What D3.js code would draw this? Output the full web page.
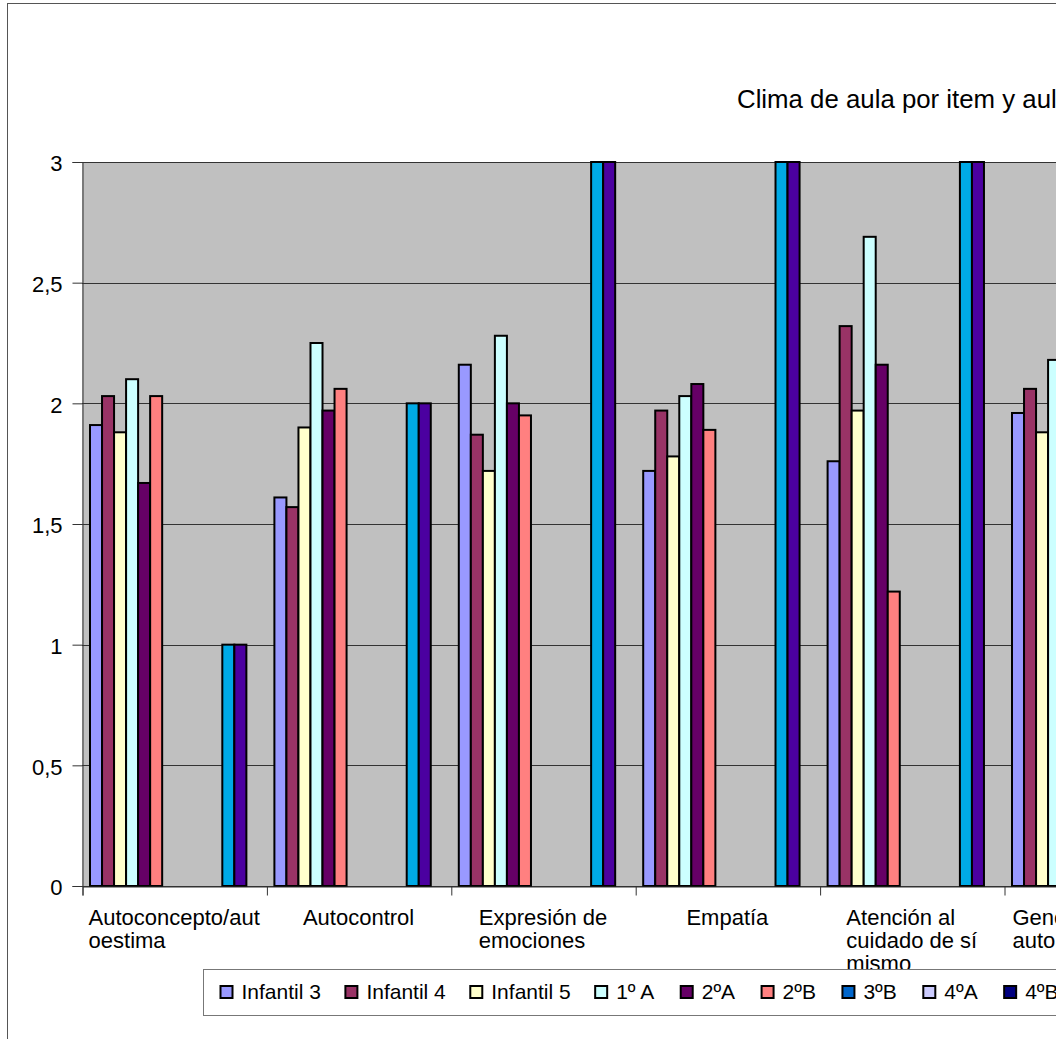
<!DOCTYPE html>
<html><head><meta charset="utf-8">
<script src="https://cdn.jsdelivr.net/npm/d3@7"></script>
<style>
body{margin:0;background:#fff;overflow:hidden}
svg{display:block}
text{font-family:"Liberation Sans",Arial,sans-serif;fill:#000}
</style>
</head><body>
<svg id="chart" width="1056" height="1039"></svg>
<script>
// ---- data ----
const title = "Clima de aula por item y aula";
const categories = ["Autoconcepto/autoestima","Autocontrol","Expresión de emociones","Empatía","Atención al cuidado de sí mismo","Generación de la autoimagen"];
const categoryLines = [["Autoconcepto/aut","oestima"],["Autocontrol"],["Expresión de","emociones"],["Empatía"],["Atención al","cuidado de sí","mismo"],["Generación de la","autoimagen"]];
const seriesNames = ["Infantil 3","Infantil 4","Infantil 5","1º A","2ºA","2ºB","3ºB","4ºA","4ºB","5ºA","5ºB","6ºA","6ºB","6ºC"];
const seriesColors = ["#9999ff","#993366","#ffffcc","#ccffff","#660066","#ff8080","#0066cc","#ccccff","#000080","#ff00ff","#ffff00","#00aae6","#4b00a0","#800000"];
const infantil3 = [1.91, 1.61, 2.16, 1.72, 1.76, 1.96];
const infantil4 = [2.03, 1.57, 1.87, 1.97, 2.32, 2.06];
const infantil5 = [1.88, 1.90, 1.72, 1.78, 1.97, 1.88];
const primeroA  = [2.10, 2.25, 2.28, 2.03, 2.69, 2.18];
const segundoA  = [1.67, 1.97, 2.00, 2.08, 2.16, null];
const segundoB  = [2.03, 2.06, 1.95, 1.89, 1.22, null];
const terceroB  = [null, null, null, null, null, null];
const cuartoA   = [null, null, null, null, null, null];
const cuartoB   = [null, null, null, null, null, null];
const quintoA   = [null, null, null, null, null, null];
const quintoB   = [null, null, null, null, null, null];
const sextoA    = [1, 2, 3, 3, 3, null];
const sextoB    = [1, 2, 3, 3, 3, null];
const sextoC    = [null, null, null, null, null, null];
const yTicks = [0, 0.5, 1, 1.5, 2, 2.5, 3];

const seriesValues = [infantil3, infantil4, infantil5, primeroA, segundoA, segundoB, terceroB, cuartoA, cuartoB, quintoA, quintoB, sextoA, sextoB, sextoC];

// ---- layout ----
const svg = d3.select("#chart");
const plotL = 82, plotT = 162, plotB = 886, catW = 184.4;
const plotR = plotL + catW * categories.length;
const FS = 22;

// outer frame
svg.append("rect").attr("x", 7.5).attr("y", 3.5).attr("width", 1200).attr("height", 1200)
  .attr("fill", "#fff").attr("stroke", "#555").attr("stroke-width", 1);

const x0 = d3.scaleBand().domain(categories).range([plotL, plotR]).padding(0);
const x1 = d3.scaleBand().domain(seriesNames).range([8, catW - 8]).padding(0);
const y = d3.scaleLinear().domain([0, 3]).range([plotB, plotT]);
const color = d3.scaleOrdinal().domain(seriesNames).range(seriesColors);

// plot background
svg.append("rect").attr("x", plotL).attr("y", plotT).attr("width", plotR - plotL).attr("height", plotB - plotT)
  .attr("fill", "#c0c0c0");

// gridlines
svg.append("g").selectAll("line").data(yTicks).join("line")
  .attr("x1", plotL).attr("x2", plotR)
  .attr("y1", d => Math.round(y(d)) + 0.5).attr("y2", d => Math.round(y(d)) + 0.5)
  .attr("stroke", "#333").attr("stroke-width", 1);

// bars
const barData = [];
seriesValues.forEach((arr, si) => arr.forEach((v, ci) => {
  if (v != null) barData.push({ s: seriesNames[si], c: categories[ci], v });
}));
svg.append("g").selectAll("rect").data(barData).join("rect")
  .attr("x", d => x0(d.c) + x1(d.s))
  .attr("y", d => y(d.v))
  .attr("width", x1.bandwidth())
  .attr("height", d => y(0) - y(d.v))
  .attr("fill", d => color(d.s))
  .attr("stroke", "#000").attr("stroke-width", 2);

// y axis
const yAxis = d3.axisLeft(y).tickValues(yTicks).tickSize(10).tickPadding(10)
  .tickFormat(d => String(d).replace(".", ","));
const gy = svg.append("g").attr("transform", `translate(${plotL + 0.5},0)`).call(yAxis);
gy.selectAll("path,line").attr("stroke", "#333");
gy.selectAll("text").attr("font-size", FS).attr("font-family", null).attr("dy", "0.4em");

// x axis (category boundaries)
const xb = d3.scaleLinear().domain([0, categories.length]).range([plotL, plotR]);
const xAxis = d3.axisBottom(xb).tickValues(d3.range(categories.length + 1)).tickSize(9).tickFormat("");
const gx = svg.append("g").attr("transform", `translate(0.5,${plotB + 0.5})`).call(xAxis);
gx.selectAll("path,line").attr("stroke", "#333");

// category labels (block centered, lines left aligned)
categoryLines.forEach((lines, i) => {
  const g = svg.append("g");
  const t = g.selectAll("text").data(lines).join("text")
    .attr("font-size", FS)
    .attr("y", (d, k) => 925 + k * 23)
    .text(d => d);
  let w = 0;
  t.each(function(){ w = Math.max(w, this.getComputedTextLength()); });
  const cx = x0(categories[i]) + x0.bandwidth() / 2;
  t.attr("x", cx - w / 2);
});

// title
svg.append("text").attr("x", 737).attr("y", 108).attr("font-size", 25.8).text(title);

// legend
const lg = svg.append("g");
lg.append("rect").attr("x", 203.5).attr("y", 969.5).attr("width", 1200).attr("height", 46)
  .attr("fill", "#fff").attr("stroke", "#777").attr("stroke-width", 1);
let lx = 220.5;
seriesNames.forEach(name => {
  lg.append("rect").attr("x", lx).attr("y", 986).attr("width", 12).attr("height", 12)
    .attr("fill", color(name)).attr("stroke", "#000").attr("stroke-width", 2);
  const t = lg.append("text").attr("x", lx + 21).attr("y", 999).attr("font-size", 21).text(name);
  const extra = name.includes("º") ? 2 : 0;
  lx += 21 + t.node().getComputedTextLength() + extra + 24.5;
});
</script>
</body></html>
